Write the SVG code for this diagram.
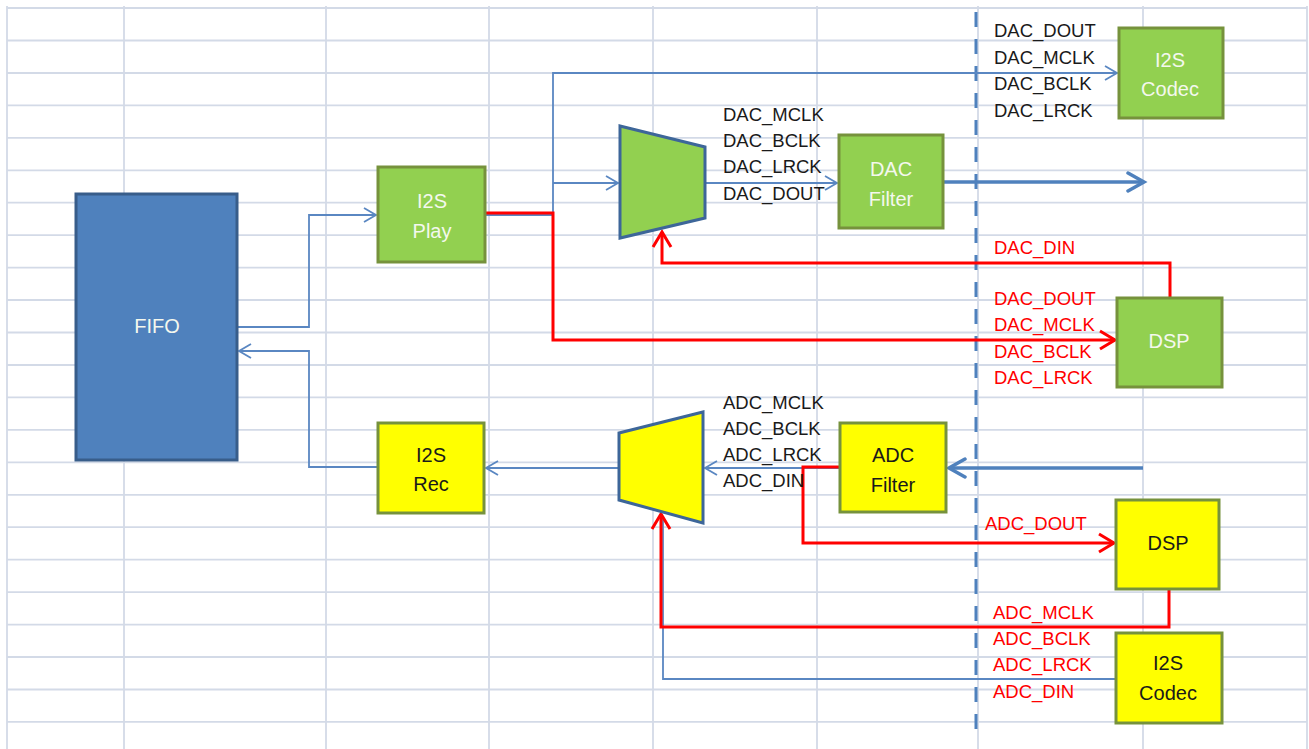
<svg xmlns="http://www.w3.org/2000/svg" width="1309" height="749" viewBox="0 0 1309 749">
<style>
.grid{stroke:#d3dae7;stroke-width:1.8;fill:none}
.box{stroke-width:3}
.green{fill:#92d050;stroke:#76923c}
.yellow{fill:#ffff00;stroke:#76923c}
.blk{fill:#4f81bd;stroke:#385d8a}
.mux{stroke:#3d6699;stroke-width:3}
.bt{font-family:"Liberation Sans",Arial,sans-serif;font-size:20px;text-anchor:middle}
.wt{fill:#f4f8ee}
.dt{fill:#1a1a1a}
.lbl{font-family:"Liberation Sans",Arial,sans-serif;font-size:18.5px}
.lk{fill:#1a1a1a}
.lr{fill:#ff0000}
.thin{stroke:#5a87c2;stroke-width:1.8;fill:none}
.thick{stroke:#4f81bd;stroke-width:3.5;fill:none}
.red{stroke:#ff0000;stroke-width:3;fill:none}
</style>
<defs>
<marker id="aThin" markerUnits="userSpaceOnUse" markerWidth="20" markerHeight="20" refX="13" refY="9" orient="auto">
<path d="M1,2 L13,9 L1,16" fill="none" stroke="#5a87c2" stroke-width="1.8"/>
</marker>
<marker id="aThick" markerUnits="userSpaceOnUse" markerWidth="24" markerHeight="24" refX="18" refY="11" orient="auto">
<path d="M2,2 L18,11 L2,20" fill="none" stroke="#4f81bd" stroke-width="3.5" stroke-linecap="round"/>
</marker>
<marker id="aRed" markerUnits="userSpaceOnUse" markerWidth="24" markerHeight="24" refX="17" refY="11" orient="auto">
<path d="M2,2 L17,11 L2,20" fill="none" stroke="#ff0000" stroke-width="3"/>
</marker>
</defs>
<rect width="1309" height="749" fill="#ffffff"/>
<g id="grid">
<path class="grid" d="M7,8H1307 M7,40.5H1307 M7,73H1307 M7,105.4H1307 M7,137.8H1307 M7,170.3H1307 M7,202.7H1307 M7,235.2H1307 M7,267.6H1307 M7,300H1307 M7,332.5H1307 M7,365H1307 M7,397.4H1307 M7,429.9H1307 M7,462.3H1307 M7,494.8H1307 M7,527.2H1307 M7,559.7H1307 M7,592.1H1307 M7,624.6H1307 M7,657H1307 M7,689.5H1307 M7,721.9H1307"/>
<path class="grid" d="M7,6V749 M124,6V749 M326,6V749 M489,6V749 M653,6V749 M817,6V749 M978,6V749 M1143,6V749 M1307,6V749"/>
</g>
<g id="boundary">
<path d="M976,12V730" stroke="#4f81bd" stroke-width="3" stroke-dasharray="15,12"/>
</g>
<g id="connectors">
<path class="thin" d="M237,327H309V215H376" marker-end="url(#aThin)"/>
<path class="thin" d="M378,467H309V351H239" marker-end="url(#aThin)"/>
<path class="thin" d="M485,215H553V73H1117" marker-end="url(#aThin)"/>
<path class="thin" d="M553,183H618" marker-end="url(#aThin)"/>
<path class="thin" d="M705,183H837" marker-end="url(#aThin)"/>
<path class="thick" d="M943,182H1144" marker-end="url(#aThick)"/>
<path class="red" d="M485,213H553V340H1115" marker-end="url(#aRed)"/>
<path class="red" d="M1170,298V263H662V232" marker-end="url(#aRed)"/>
<path class="thick" d="M1143,468H949" marker-end="url(#aThick)"/>
<path class="thin" d="M840,468H705" marker-end="url(#aThin)"/>
<path class="thin" d="M619,468H486" marker-end="url(#aThin)"/>
<path class="thin" d="M1116,679H663V516"/>
<path class="red" d="M840,467H803V543H1114" marker-end="url(#aRed)"/>
<path class="red" d="M1169,589V627H661V514" marker-end="url(#aRed)"/>
</g>
<g id="fifo">
<rect class="box blk" x="76" y="194" width="161" height="266"/>
<text class="bt wt" x="157" y="333">FIFO</text>
</g>
<g id="i2s-play">
<rect class="box green" x="378" y="167" width="107" height="95"/>
<text class="bt wt" x="432" y="208">I2S</text>
<text class="bt wt" x="432" y="238">Play</text>
</g>
<g id="dac-mux">
<polygon class="mux" fill="#92d050" points="620,126 705,147 705,218 620,238"/>
</g>
<g id="dac-filter">
<rect class="box green" x="839" y="135" width="104" height="93"/>
<text class="bt wt" x="891" y="176">DAC</text>
<text class="bt wt" x="891" y="206">Filter</text>
</g>
<g id="i2s-codec-dac">
<rect class="box green" x="1119" y="28" width="104" height="90"/>
<text class="bt wt" x="1170" y="67">I2S</text>
<text class="bt wt" x="1170" y="96">Codec</text>
</g>
<g id="dsp-dac">
<rect class="box green" x="1117" y="298" width="105" height="89"/>
<text class="bt wt" x="1169" y="348">DSP</text>
</g>
<g id="i2s-rec">
<rect class="box yellow" x="378" y="423" width="106" height="90"/>
<text class="bt dt" x="431" y="462">I2S</text>
<text class="bt dt" x="431" y="491">Rec</text>
</g>
<g id="adc-mux">
<polygon class="mux" fill="#ffff00" points="619,433 703,412 703,523 619,500"/>
</g>
<g id="adc-filter">
<rect class="box yellow" x="840" y="423" width="106" height="89"/>
<text class="bt dt" x="893" y="462">ADC</text>
<text class="bt dt" x="893" y="492">Filter</text>
</g>
<g id="dsp-adc">
<rect class="box yellow" x="1116" y="500" width="103" height="89"/>
<text class="bt dt" x="1168" y="550">DSP</text>
</g>
<g id="i2s-codec-adc">
<rect class="box yellow" x="1116" y="633" width="106" height="90"/>
<text class="bt dt" x="1168" y="670">I2S</text>
<text class="bt dt" x="1168" y="700">Codec</text>
</g>
<g id="labels">
<text class="lbl lk" x="994" y="37">DAC_DOUT</text>
<text class="lbl lk" x="994" y="64">DAC_MCLK</text>
<text class="lbl lk" x="994" y="90">DAC_BCLK</text>
<text class="lbl lk" x="994" y="117">DAC_LRCK</text>
<text class="lbl lk" x="723" y="121">DAC_MCLK</text>
<text class="lbl lk" x="723" y="147">DAC_BCLK</text>
<text class="lbl lk" x="723" y="173">DAC_LRCK</text>
<text class="lbl lk" x="723" y="200">DAC_DOUT</text>
<text class="lbl lr" x="994" y="254">DAC_DIN</text>
<text class="lbl lr" x="994" y="305">DAC_DOUT</text>
<text class="lbl lr" x="994" y="331">DAC_MCLK</text>
<text class="lbl lr" x="994" y="358">DAC_BCLK</text>
<text class="lbl lr" x="994" y="384">DAC_LRCK</text>
<text class="lbl lk" x="723" y="409">ADC_MCLK</text>
<text class="lbl lk" x="723" y="435">ADC_BCLK</text>
<text class="lbl lk" x="723" y="461">ADC_LRCK</text>
<text class="lbl lk" x="723" y="487">ADC_DIN</text>
<text class="lbl lr" x="985" y="530">ADC_DOUT</text>
<text class="lbl lr" x="993" y="619">ADC_MCLK</text>
<text class="lbl lr" x="993" y="645">ADC_BCLK</text>
<text class="lbl lr" x="993" y="671">ADC_LRCK</text>
<text class="lbl lr" x="993" y="698">ADC_DIN</text>
</g>
</svg>
